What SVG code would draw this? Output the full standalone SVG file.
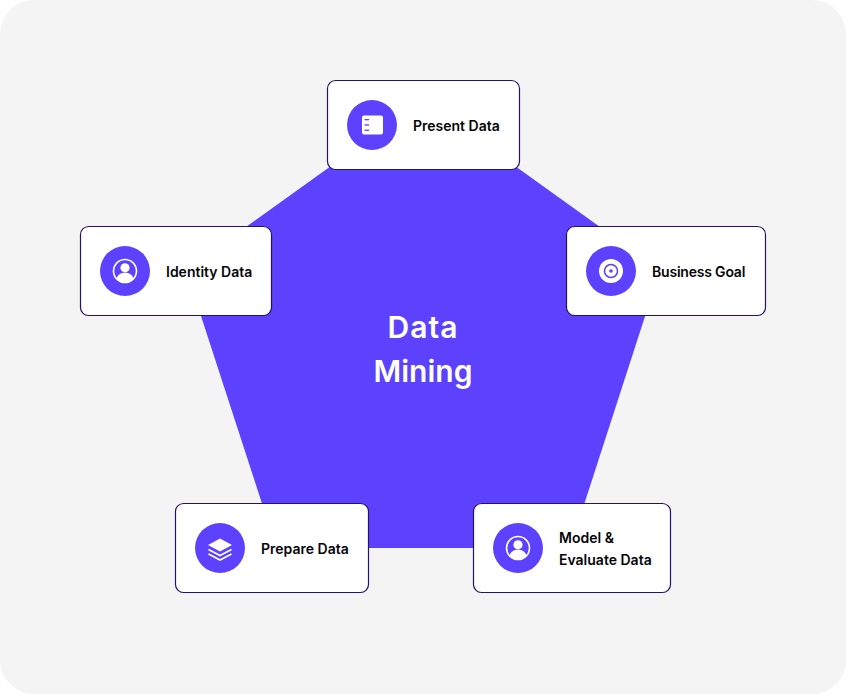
<svg xmlns="http://www.w3.org/2000/svg" width="846" height="694" viewBox="0 0 846 694">
<style>
.card{fill:#fff;stroke:#26126a;stroke-width:1.2}
.dot{fill:#5c41ff}
.lbl{font-family:Inter,"Liberation Sans",sans-serif;font-size:14px;font-weight:600;fill:#050508}
.ttl{font-family:Inter,"Liberation Sans",sans-serif;font-size:30px;font-weight:600;fill:#fff;text-anchor:middle}
.w{fill:#fff}
.v{fill:#5c41ff}
</style>
<defs>
<g id="person">
<circle r="11.500" fill="none" stroke="#fff" stroke-width="1.600"/>
<circle cy="-3.200" r="4.600" class="w"/>
<path d="M-8.500 8C-7.500 3.500-4 1.800 0 1.800S7.500 3.500 8.500 8C6 10.300 3 11.200 0 11.200S-6 10.300-8.500 8Z" class="w"/>
</g>
</defs>
<rect width="846" height="694" rx="34" fill="#f4f4f4"/>
<g id="pentagon"><polygon points="423,100 660,270 570,548 276.500,548 186,270" class="v"/></g>
<g id="title"><text x="423" y="338" class="ttl" style="letter-spacing:1px">Data</text><text x="423" y="382" class="ttl">Mining</text></g>
<g id="connectors"></g>
<g id="present-data">
<rect x="327.500" y="80.500" width="192" height="89" rx="8" class="card"/>
<circle cx="372" cy="125" r="25" class="dot"/>
<rect x="362" y="115.500" width="21" height="19" rx="2" class="w"/>
<rect x="364.500" y="119" width="4.500" height="1.300" class="v"/><rect x="364.500" y="124.300" width="4.500" height="1.300" class="v"/><rect x="364.500" y="129.600" width="4.500" height="1.300" class="v"/>
<text x="413" y="131" class="lbl">Present Data</text>
</g>
<g id="business-goal">
<rect x="566.500" y="226.500" width="199" height="89" rx="8" class="card"/>
<circle cx="611" cy="271" r="25" class="dot"/>
<circle cx="611" cy="271" r="12" class="w"/>
<circle cx="611" cy="271" r="6.500" fill="none" stroke="#5c41ff" stroke-width="1.500"/>
<circle cx="611" cy="271" r="1.800" class="v"/>
<text x="652" y="277" class="lbl" style="letter-spacing:-.2px">Business Goal</text>
</g>
<g id="identity-data">
<rect x="80.500" y="226.500" width="191" height="89" rx="8" class="card"/>
<circle cx="125" cy="271" r="25" class="dot"/>
<use href="#person" x="125" y="271"/>
<text x="166" y="277" class="lbl">Identity Data</text>
</g>
<g id="prepare-data">
<rect x="175.500" y="503.500" width="193" height="89" rx="8" class="card"/>
<circle cx="220" cy="548" r="25" class="dot"/>
<path d="M220 538.500L232 545 220 551.500 208 545Z" class="w"/>
<path d="M208.500 549.500L220 555.500 231.500 549.500" fill="none" stroke="#fff" stroke-width="1.600"/>
<path d="M208.500 554L220 560 231.500 554" fill="none" stroke="#fff" stroke-width="1.600"/>
<text x="261" y="554" class="lbl">Prepare Data</text>
</g>
<g id="model-evaluate-data">
<rect x="473.500" y="503.500" width="197" height="89" rx="8" class="card"/>
<circle cx="518" cy="548" r="25" class="dot"/>
<use href="#person" x="518" y="548"/>
<text x="559" y="543" class="lbl">Model &amp;</text>
<text x="559" y="565" class="lbl">Evaluate Data</text>
</g>
</svg>
